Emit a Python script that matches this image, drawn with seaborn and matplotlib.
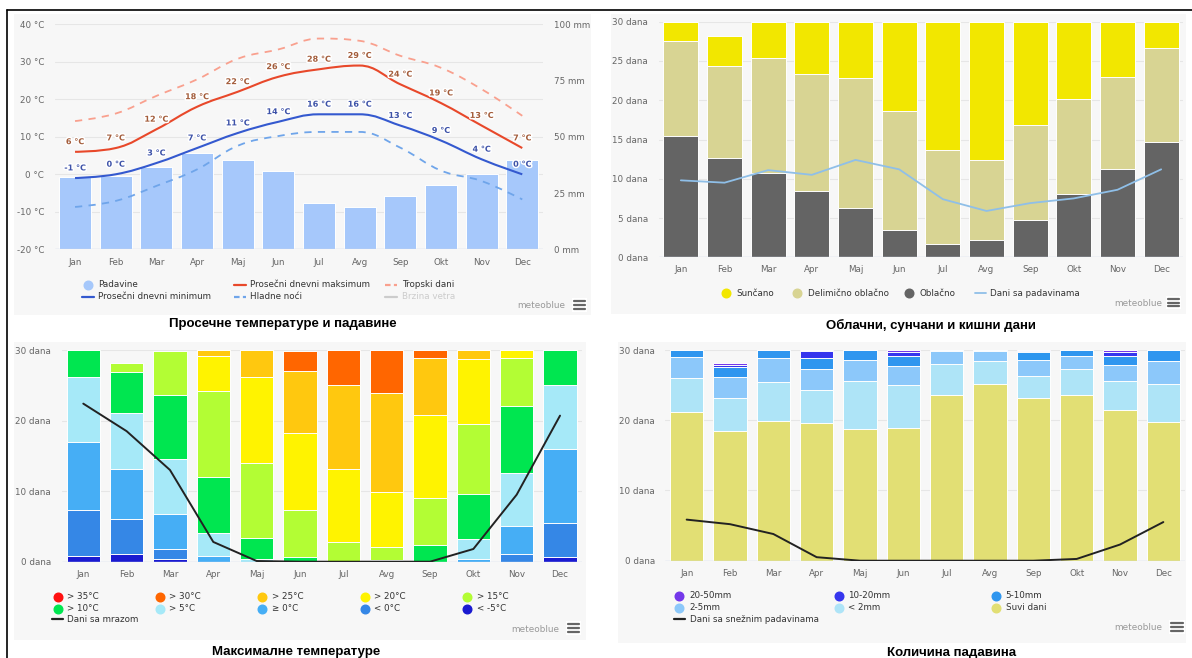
import numpy as np
import pandas as pd
import matplotlib
matplotlib.use("Agg")
import matplotlib.pyplot as plt
import seaborn as sns
from matplotlib.lines import Line2D
from matplotlib.patches import Rectangle, PathPatch
from matplotlib.path import Path
import matplotlib.patheffects as pe

# ---------------- data ----------------
months = ['Jan', 'Feb', 'Mar', 'Apr', 'Maj', 'Jun', 'Jul', 'Avg', 'Sep', 'Okt', 'Nov', 'Dec']

# Panel 1: average temperatures and precipitation
precip_mm = [32.0, 32.6, 36.6, 42.8, 39.9, 34.7, 20.7, 18.7, 23.8, 28.7, 33.6, 39.9]
temp_max = [6, 7, 12, 18, 22, 26, 28, 29, 24, 19, 13, 7]
temp_min = [-1, 0, 3, 7, 11, 14, 16, 16, 13, 9, 4, 0]
hot_days = [14.2, 16.2, 20.9, 25.3, 30.8, 33.3, 36.2, 35.6, 31.6, 28.4, 22.7, 15.6]
cold_nights = [-8.7, -7.1, -3.1, 1.3, 7.6, 10.2, 11.3, 11.3, 7.1, 1.0, -1.8, -6.7]

# Panel 2: cloudy, sunny and precipitation days
cloudy = [15.5, 12.6, 10.7, 8.4, 6.3, 3.5, 1.65, 2.2, 4.8, 8.0, 11.2, 14.7]
partly_cloudy = [12.0, 11.7, 14.7, 15.0, 16.5, 15.1, 11.95, 10.25, 12.1, 12.2, 11.7, 11.9]
sunny = [2.5, 3.9, 4.6, 6.6, 7.2, 11.4, 16.4, 17.55, 13.1, 9.8, 7.1, 3.4]
precip_days = [9.8, 9.5, 11.1, 10.5, 12.4, 11.2, 7.4, 5.9, 6.9, 7.5, 8.6, 11.2]

# Panel 3: maximum temperatures (days per class)
tmax_lt_m5 = [0.85, 1.05, 0.35, 0, 0, 0, 0, 0, 0, 0, 0, 0.6]
tmax_lt_0 = [6.45, 4.95, 1.5, 0, 0, 0, 0, 0, 0, 0, 1.1, 4.85]
tmax_ge_0 = [9.7, 7.1, 4.85, 0.85, 0, 0, 0, 0, 0, 0.4, 3.9, 10.55]
tmax_gt_5 = [9.2, 8.0, 7.9, 3.25, 0.4, 0, 0, 0, 0, 2.8, 7.5, 9.0]
tmax_gt_10 = [3.8, 5.8, 9.0, 7.9, 3.0, 0.6, 0, 0.2, 2.3, 6.4, 9.5, 5.0]
tmax_gt_15 = [0, 1.2, 6.2, 12.2, 10.6, 6.7, 2.75, 1.9, 6.7, 9.9, 6.85, 0]
tmax_gt_20 = [0, 0, 0, 5.0, 12.2, 10.9, 10.4, 7.8, 11.8, 9.2, 1.15, 0]
tmax_gt_25 = [0, 0, 0, 0.8, 3.8, 8.8, 11.85, 14.0, 8.05, 1.3, 0, 0]
tmax_gt_30 = [0, 0, 0, 0, 0, 2.9, 5.0, 6.1, 1.15, 0, 0, 0]
tmax_gt_35 = [0, 0, 0, 0, 0, 0, 0, 0, 0, 0, 0, 0]
frost_days = [22.4, 18.5, 13.0, 2.8, 0.1, 0, 0, 0, 0, 1.8, 9.5, 20.7]

# Panel 4: precipitation amounts (days per class)
dry_days = [21.2, 18.5, 19.9, 19.6, 18.7, 18.95, 23.6, 25.2, 23.1, 23.6, 21.45, 19.8]
pr_lt2 = [4.8, 4.7, 5.5, 4.7, 6.9, 6.05, 4.4, 3.25, 3.25, 3.65, 4.15, 5.3]
pr_2_5 = [3.0, 2.9, 3.4, 3.05, 2.95, 2.7, 1.8, 1.4, 2.2, 1.9, 2.3, 3.35]
pr_5_10 = [1.0, 1.45, 1.2, 1.5, 1.45, 1.5, 0.2, 0.15, 1.15, 0.85, 1.3, 1.55]
pr_10_20 = [0, 0.35, 0, 0.95, 0, 0.5, 0, 0, 0.2, 0, 0.55, 0]
pr_20_50 = [0, 0.2, 0, 0.2, 0, 0.3, 0, 0, 0.1, 0, 0.25, 0]
snow_days = [5.85, 5.2, 3.8, 0.5, 0, 0, 0, 0, 0, 0.25, 2.3, 5.5]

# ---------------- setup ----------------
W, H = 1192, 658
sns.set_theme(style="white")
plt.rcParams["font.family"] = ["DejaVu Sans"]
fig = plt.figure(figsize=(W / 100, H / 100), dpi=100)
fig.patch.set_facecolor("white")

GRID = "#e6e6e6"
BASE = "#ccd6eb"
TICK = "#666666"
LEG = "#333333"
TSIZE = 6.3
LSIZE = 6.3


def fx(x):
    return x / W


def fy(y):
    return 1 - y / H


def make_ax(x0, x1, ytop, ybot):
    return fig.add_axes([fx(x0), fy(ybot), (x1 - x0) / W, (ybot - ytop) / H])


def panel_bg(x0, y0, x1, y1):
    fig.add_artist(Rectangle((fx(x0), fy(y1)), (x1 - x0) / W, (y1 - y0) / H,
                             transform=fig.transFigure, facecolor="#f7f7f7",
                             edgecolor="none", zorder=-5))


def style_ax(ax, yticks, ylabels, pad_y, pad_x, grid_vals, base_val, xlabels=True):
    ax.set_facecolor("none")
    for s in ax.spines.values():
        s.set_visible(False)
    ax.set_xlim(-0.5, 11.5)
    ax.set_xticks(range(12))
    if xlabels:
        ax.set_xticklabels(months)
    ax.set_yticks(yticks)
    ax.set_yticklabels(ylabels)
    ax.tick_params(axis="both", length=0, labelsize=TSIZE, labelcolor=TICK)
    ax.tick_params(axis="y", pad=pad_y)
    ax.tick_params(axis="x", pad=pad_x)
    ax.set_xlabel("")
    ax.set_ylabel("")
    ax.grid(False)
    for v in grid_vals:
        ax.axhline(v, color=GRID, lw=0.8, zorder=0)
    ax.axhline(base_val, color=BASE, lw=1.0, zorder=3)


def stacked(ax, layers, colors, width):
    cum = np.cumsum(np.array(layers, dtype=float), axis=0)
    for k in range(len(layers) - 1, -1, -1):
        df = pd.DataFrame({"m": months, "v": cum[k]})
        sns.barplot(data=df, x="m", y="v", color=colors[k], width=width,
                    edgecolor="white", linewidth=0.7, saturation=1,
                    errorbar=None, ax=ax)


def spline_path(xs, ys, sm=1.5):
    n = len(xs)
    d = sm + 1
    L, R = [], []
    for i in range(n):
        x, y = xs[i], ys[i]
        if 0 < i < n - 1:
            lx, ly = xs[i - 1], ys[i - 1]
            nx, ny = xs[i + 1], ys[i + 1]
            lcx = (sm * x + lx) / d
            lcy = (sm * y + ly) / d
            rcx = (sm * x + nx) / d
            rcy = (sm * y + ny) / d
            corr = ((rcy - lcy) * (rcx - x)) / (rcx - lcx) + y - rcy
            lcy += corr
            rcy += corr
            if lcy > max(ly, y):
                lcy = max(ly, y); rcy = 2 * y - lcy
            elif lcy < min(ly, y):
                lcy = min(ly, y); rcy = 2 * y - lcy
            if rcy > max(ny, y):
                rcy = max(ny, y); lcy = 2 * y - rcy
            elif rcy < min(ny, y):
                rcy = min(ny, y); lcy = 2 * y - rcy
        else:
            lcx, lcy, rcx, rcy = x, y, x, y
        L.append((lcx, lcy))
        R.append((rcx, rcy))
    verts = [(xs[0], ys[0])]
    codes = [Path.MOVETO]
    for i in range(1, n):
        verts += [R[i - 1], L[i], (xs[i], ys[i])]
        codes += [Path.CURVE4] * 3
    return Path(verts, codes)


def leg_marker(x, y, color, tx, label, tcolor=LEG):
    fig.add_artist(Line2D([fx(x)], [fy(y)], marker="o", ms=6.2, color=color,
                          mec=color, ls="none", transform=fig.transFigure))
    fig.text(fx(tx), fy(y), label, fontsize=LSIZE, color=tcolor, va="center", ha="left")


def leg_line(x0, x1, y, color, tx, label, ls="-", lw=1.6, tcolor=LEG):
    fig.add_artist(Line2D([fx(x0), fx(x1)], [fy(y), fy(y)], color=color, lw=lw, ls=ls,
                          transform=fig.transFigure))
    fig.text(fx(tx), fy(y), label, fontsize=LSIZE, color=tcolor, va="center", ha="left")


def brand(xr, y, hx0, hx1, hy0, hy1):
    fig.text(fx(xr), fy(y), "meteoblue", fontsize=6.4, color="#999999", ha="right", va="center")
    fig.add_artist(Rectangle((fx(hx0 - 2), fy(hy1 + 2)), (hx1 - hx0 + 4) / W, (hy1 - hy0 + 4) / H,
                             transform=fig.transFigure, facecolor="white", edgecolor="none"))
    for yy in np.linspace(hy0 + 1, hy1 - 1, 3):
        fig.add_artist(Line2D([fx(hx0), fx(hx1)], [fy(yy), fy(yy)], color="#666666", lw=1.6,
                              transform=fig.transFigure))


def title(xc, y, txt):
    fig.text(fx(xc), fy(y), txt, fontsize=9.5, fontweight="bold", ha="center", va="center",
             family=["Liberation Sans", "DejaVu Sans"], color="black")


# panel backgrounds
panel_bg(14, 14, 591, 315)
panel_bg(611, 14, 1186, 314)
panel_bg(14, 342, 586, 640)
panel_bg(618, 342, 1186, 643)

# black frame lines
fig.add_artist(Line2D([fx(7), fx(1192)], [fy(10), fy(10)], color="black", lw=1.2, transform=fig.transFigure))
fig.add_artist(Line2D([fx(7), fx(7)], [fy(10), fy(658)], color="black", lw=1.2, transform=fig.transFigure))

x = np.arange(12)

# ---------------- Panel 1 ----------------
ax1 = make_ax(54.7, 542.6, 24.3, 249.3)
ax1b = ax1.twinx()
ax1b.set_zorder(1)
ax1.set_zorder(2)
ax1.patch.set_visible(False)
ax1b.patch.set_visible(False)

sns.barplot(x=months, y=precip_mm, color="#a6c8fb", width=0.79, edgecolor="white",
            linewidth=0.7, saturation=1, errorbar=None, ax=ax1b)
ax1b.set_ylim(0, 100)
ax1b.set_xlim(-0.5, 11.5)
for s in ax1b.spines.values():
    s.set_visible(False)
ax1b.set_yticks([0, 25, 50, 75, 100])
ax1b.set_yticklabels([f"{v} mm" for v in [0, 25, 50, 75, 100]])
ax1b.tick_params(axis="y", length=0, labelsize=TSIZE, labelcolor=TICK, pad=8.2)
ax1b.set_ylabel("")
ax1b.grid(False)
for t in [40, 30, 20, 10, 0, -10]:
    ax1b.axhline((t + 20) / 0.6, color=GRID, lw=0.8, zorder=0)

ax1.set_ylim(-20, 40)
style_ax(ax1, list(range(-20, 41, 10)), [f"{v} °C" for v in range(-20, 41, 10)],
         7.7, 6.0, [], -20)

ax1.add_patch(PathPatch(spline_path(x, hot_days), fill=False, edgecolor="#f9a08e", lw=1.3,
                        ls=(0, (4, 3.5)), zorder=4))
ax1.add_patch(PathPatch(spline_path(x, cold_nights), fill=False, edgecolor="#6fa5ea", lw=1.3,
                        ls=(0, (4, 3.5)), zorder=4))
ax1.add_patch(PathPatch(spline_path(x, temp_max), fill=False, edgecolor="#e8482a", lw=1.5, zorder=5))
ax1.add_patch(PathPatch(spline_path(x, temp_min), fill=False, edgecolor="#3459cf", lw=1.5, zorder=5))

stroke = [pe.withStroke(linewidth=2.2, foreground="white")]
for i, v in enumerate(temp_max):
    ax1.annotate(f"{v} °C", (i, v), xytext=(0, 7.3), textcoords="offset points", ha="center",
                 va="center", fontsize=5.8, fontweight="bold", color="#a35c3a",
                 path_effects=stroke, zorder=6)
for i, v in enumerate(temp_min):
    ax1.annotate(f"{v} °C", (i, v), xytext=(0, 7.3), textcoords="offset points", ha="center",
                 va="center", fontsize=5.8, fontweight="bold", color="#3d52a8",
                 path_effects=stroke, zorder=6)

leg_marker(88.3, 284.5, "#a6c8fb", 98.3, "Padavine")
leg_line(234, 246, 284.5, "#e8482a", 250, "Prosečni dnevni maksimum")
leg_line(385, 397, 284.5, "#f9a08e", 402, "Tropski dani", ls=(0, (2.5, 1.5)))
leg_line(82, 94.3, 296.7, "#3459cf", 98.3, "Prosečni dnevni minimum")
leg_line(234, 246, 296.7, "#6fa5ea", 250, "Hladne noći", ls=(0, (2.5, 1.5)))
leg_line(385, 397, 296.7, "#cccccc", 402, "Brzina vetra", tcolor="#cccccc")
brand(565, 306, 574, 585, 300, 310)
title(283, 324, "Просечне температуре и падавине")

# ---------------- Panel 2 ----------------
ax2 = make_ax(659, 1183, 21.7, 257.3)
stacked(ax2, [cloudy, partly_cloudy, sunny], ["#646464", "#d8d493", "#f2e700"], 0.8)
sns.lineplot(x=x, y=precip_days, color="#8fbfe8", lw=1.3, ax=ax2, zorder=5)
ax2.set_ylim(0, 30)
style_ax(ax2, list(range(0, 31, 5)), [f"{v} dana" for v in range(0, 31, 5)],
         8.0, 5.5, list(range(5, 31, 5)), 0)

leg_marker(726, 293, "#f2e700", 736, "Sunčano")
leg_marker(797, 293, "#d8d493", 808, "Delimično oblačno")
leg_marker(909, 293, "#646464", 920, "Oblačno")
leg_line(975, 986, 293, "#8fbfe8", 990, "Dani sa padavinama", lw=1.3)
brand(1162, 303, 1168, 1179, 298, 307)
title(931, 325, "Облачни, сунчани и кишни дани")

# ---------------- Panel 3 ----------------
c3 = ["#1a1ad0", "#3587e6", "#46aef5", "#a6e9f8", "#00e650", "#b3fd34",
      "#fff300", "#ffc80f", "#ff6600", "#ff1010"]
ax3 = make_ax(61.6, 581.7, 350, 561.7)
stacked(ax3, [tmax_lt_m5, tmax_lt_0, tmax_ge_0, tmax_gt_5, tmax_gt_10, tmax_gt_15,
              tmax_gt_20, tmax_gt_25, tmax_gt_30, tmax_gt_35], c3, 0.77)
sns.lineplot(x=x, y=frost_days, color="#222222", lw=1.4, ax=ax3, zorder=5)
ax3.set_ylim(0, 30)
style_ax(ax3, [0, 10, 20, 30], [f"{v} dana" for v in [0, 10, 20, 30]],
         7.6, 6.0, [10, 20, 30], 0)

cols3 = [(58.3, 67.3), (160, 169.3), (261.7, 272.3), (364.8, 374.3), (467.4, 477)]
labels3 = ["> 35°C", "> 30°C", "> 25°C", "> 20°C", "> 15°C",
           "> 10°C", "> 5°C", "≥ 0°C", "< 0°C", "< -5°C"]
colors3_leg = ["#ff1010", "#ff6600", "#ffc80f", "#fff300", "#b3fd34",
               "#00e650", "#a6e9f8", "#46aef5", "#3587e6", "#1a1ad0"]
for k in range(10):
    r, c = divmod(k, 5)
    yy = 596.7 + r * 11.8
    leg_marker(cols3[c][0], yy, colors3_leg[k], cols3[c][1], labels3[k])
leg_line(51.7, 62.7, 619.3, "#222222", 67.3, "Dani sa mrazom")
brand(559, 629, 568, 579, 623, 633)
title(296, 652, "Максималне температуре")

# ---------------- Panel 4 ----------------
c4 = ["#e2df74", "#aee4f7", "#8cc8fa", "#2f96ef", "#3636ee", "#7438ea"]
ax4 = make_ax(665, 1185, 350, 560.7)
stacked(ax4, [dry_days, pr_lt2, pr_2_5, pr_5_10, pr_10_20, pr_20_50], c4, 0.77)
sns.lineplot(x=x, y=snow_days, color="#222222", lw=1.4, ax=ax4, zorder=5)
ax4.set_ylim(0, 30)
style_ax(ax4, [0, 10, 20, 30], [f"{v} dana" for v in [0, 10, 20, 30]],
         7.3, 6.3, [10, 20, 30], 0)

cols4 = [(679, 689), (838.5, 848), (996, 1005.6)]
labels4 = ["20-50mm", "10-20mm", "5-10mm", "2-5mm", "< 2mm", "Suvi dani"]
colors4_leg = ["#7438ea", "#3636ee", "#2f96ef", "#8cc8fa", "#aee4f7", "#e2df74"]
for k in range(6):
    r, c = divmod(k, 3)
    yy = 595.7 + r * 12
    leg_marker(cols4[c][0], yy, colors4_leg[k], cols4[c][1], labels4[k])
leg_line(674, 685, 619, "#222222", 690, "Dani sa snežnim padavinama")
brand(1162, 628, 1171, 1183, 622, 632)
title(952, 653, "Количина падавина")

fig.savefig("out.png", dpi=100, facecolor="white")
